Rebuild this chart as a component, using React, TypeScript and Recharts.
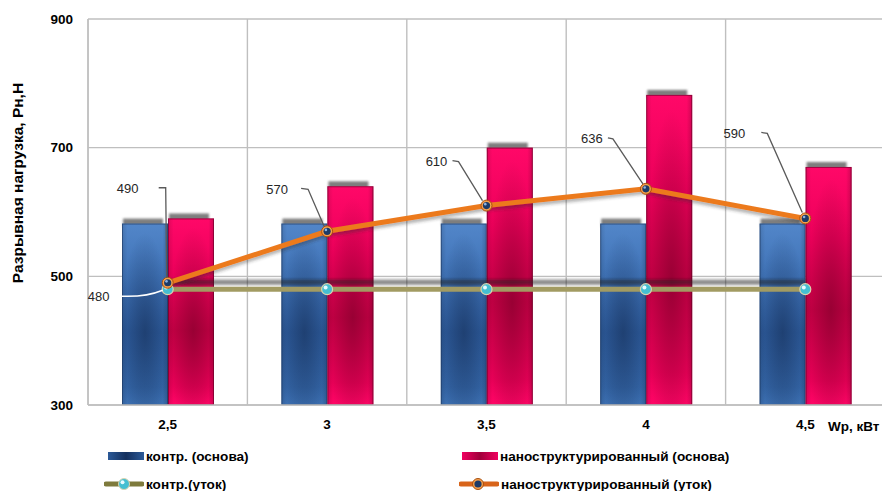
import React from 'react';
import {
  ComposedChart,
  Bar,
  Line,
  XAxis,
  YAxis,
  CartesianGrid,
  LabelList,
} from 'recharts';

// Wp, кВт
const categories = ['2,5', '3', '3,5', '4', '4,5'];
// разрывная нагрузка, Н
const controlWarp = [582, 582, 582, 582, 582];
const nanoWarp = [590, 640, 700, 782, 670];
const controlWeft = [480, 480, 480, 480, 480];
const nanoWeft = [490, 570, 610, 636, 590];
const yTicks = [300, 500, 700, 900];

const data = categories.map((wp, i) => ({
  wp,
  controlWarp: controlWarp[i],
  nanoWarp: nanoWarp[i],
  controlWeft: controlWeft[i],
  nanoWeft: nanoWeft[i],
}));

const FONT = '"Liberation Sans", Arial, sans-serif';

// label placement relative to each point of the nano weft line:
// text centre, then leader line (start, bend, end)
const nanoLabelLayout = [
  { dx: -40, dy: -94, leader: [[-9, -95], [-2, -95], [-1, -5]] },
  { dx: -50, dy: -42, leader: [[-26, -43], [-19, -42], [-3, -5]] },
  { dx: -50, dy: -44, leader: [[-34, -45], [-28, -44], [-4, -5]] },
  { dx: -54, dy: -50, leader: [[-38, -51], [-33, -50], [-3, -5]] },
  { dx: -71, dy: -85, leader: [[-44, -86], [-38, -85], [-3, -6]] },
];

const WarpBar = (gradId: string, spotId: string, edge: string) => (props: any) => {
  const { x, y, width, height } = props;
  if (width == null || height == null) return null;
  return (
    <g>
      <rect
        x={x + 1}
        y={y - 5}
        width={width - 6}
        height={8}
        fill="#5e5e5e"
        opacity={0.8}
        filter="url(#softBlur)"
      />
      <rect x={x} y={y} width={width} height={height} fill={`url(#${gradId})`} />
      <rect x={x} y={y} width={width} height={height} fill={`url(#${spotId})`} />
      <rect x={x} y={y} width={width} height={height} fill="url(#edgeShade)" />
      <rect
        x={x + 0.5}
        y={y + 0.5}
        width={width - 1}
        height={height - 1}
        fill="none"
        stroke={edge}
        strokeOpacity={0.55}
      />
    </g>
  );
};

const NanoDot = (props: any) => {
  const { cx, cy, index } = props;
  if (cx == null || cy == null) return null;
  return (
    <g key={`nd-${index}`}>
      <circle cx={cx} cy={cy} r={5.5} fill="#f6a04c" stroke="#a85010" strokeWidth={1} />
      <circle cx={cx} cy={cy} r={3.6} fill="#1c3a68" />
      <circle cx={cx - 1.2} cy={cy - 1.4} r={1.3} fill="#8fb4e0" />
    </g>
  );
};

const ControlDot = (props: any) => {
  const { cx, cy, index } = props;
  if (cx == null || cy == null) return null;
  return (
    <g key={`cd-${index}`}>
      <circle cx={cx} cy={cy} r={5.5} fill="#45bfd2" stroke="#d8d4b0" strokeWidth={1.2} />
      <circle cx={cx - 1.5} cy={cy - 1.7} r={2} fill="#e8fbff" />
    </g>
  );
};

const NanoLabel = (props: any) => {
  const { x, y, value } = props;
  let index = props.index;
  if (index == null) index = nanoWeft.indexOf(value);
  const lay = nanoLabelLayout[index];
  if (!lay || x == null || y == null) return null;
  const [a, b, c] = lay.leader;
  return (
    <g>
      <path
        d={`M${x + a[0]},${y + a[1]} L${x + b[0]},${y + b[1]} L${x + c[0]},${y + c[1]}`}
        fill="none"
        stroke="#5a5a5a"
        strokeWidth={1.3}
      />
      <text
        x={x + lay.dx}
        y={y + lay.dy}
        textAnchor="middle"
        dominantBaseline="central"
        fontFamily={FONT}
        fontSize={13}
        fill="#262626"
      >
        {value}
      </text>
    </g>
  );
};

// only the first control weft point carries a label
const ControlLabel = (props: any) => {
  const { x, y, value, index } = props;
  if (x == null || y == null) return null;
  if (index != null ? index !== 0 : x > 250) return null;
  return (
    <g>
      <path
        d={`M${x - 46},${y + 7} Q${x - 22},${y + 8} ${x - 5},${y + 1}`}
        fill="none"
        stroke="#ffffff"
        strokeWidth={1.5}
      />
      <text
        x={x - 69}
        y={y + 7}
        textAnchor="middle"
        dominantBaseline="central"
        fontFamily={FONT}
        fontSize={13}
        fill="#262626"
      >
        {value}
      </text>
    </g>
  );
};

const LegendBox = ({ from, to }: { from: string; to: string }) => (
  <svg width={36} height={10} style={{ display: 'block' }}>
    <defs>
      <linearGradient id={`lg-${from}`} x1="0" y1="0" x2="1" y2="0">
        <stop offset="0" stopColor={from} />
        <stop offset="0.5" stopColor={to} />
        <stop offset="1" stopColor={from} />
      </linearGradient>
    </defs>
    <rect x={0} y={1} width={36} height={8} fill={`url(#lg-${from})`} />
  </svg>
);

const LegendLine = ({ color, dot }: { color: string; dot: 'nano' | 'control' }) => (
  <svg width={40} height={14} style={{ display: 'block' }}>
    <line x1={2} y1={7} x2={38} y2={7} stroke={color} strokeWidth={5} strokeLinecap="round" />
    {dot === 'nano' ? (
      <g>
        <circle cx={19} cy={7} r={5.5} fill="#f6a04c" stroke="#a85010" />
        <circle cx={19} cy={7} r={3.6} fill="#1c3a68" />
      </g>
    ) : (
      <g>
        <circle cx={20} cy={7} r={5.5} fill="#45bfd2" stroke="#d8d4b0" />
        <circle cx={18.5} cy={5.3} r={2} fill="#e8fbff" />
      </g>
    )}
  </svg>
);

const legendText: React.CSSProperties = {
  fontFamily: FONT,
  fontWeight: 'bold',
  fontSize: 13.6,
  color: '#000',
  marginLeft: 2,
  whiteSpace: 'nowrap',
};

const LegendItem = ({ left, top, icon, label }: any) => (
  <div style={{ position: 'absolute', left, top, display: 'flex', alignItems: 'center', height: 16 }}>
    {icon}
    <span style={legendText}>{label}</span>
  </div>
);

export default function App() {
  return (
    <div
      style={{
        position: 'absolute',
        left: 0,
        top: 0,
        width: 882,
        height: 491,
        overflow: 'hidden',
        background: '#fff',
      }}
    >
      <style>{`
        .weft-control .recharts-line-curve { filter: url(#oliveShadow); }
        .weft-nano .recharts-line-curve { filter: url(#orangeShadow); }
      `}</style>
      <ComposedChart
        width={885}
        height={491}
        data={data}
        margin={{ top: 19, right: 0, bottom: 56, left: 0 }}
        barGap={0}
      >
        <defs>
          <linearGradient id="blueBar" x1="0" y1="0" x2="0" y2="1">
            <stop offset="0" stopColor="#5286c9" />
            <stop offset="0.3" stopColor="#3f72b6" />
            <stop offset="0.6" stopColor="#2e5c9d" />
            <stop offset="0.9" stopColor="#3465a6" />
            <stop offset="1" stopColor="#3d70b2" />
          </linearGradient>
          <radialGradient id="blueSpot" cx="0.5" cy="0.6" r="0.55">
            <stop offset="0" stopColor="#132a50" stopOpacity={0.55} />
            <stop offset="1" stopColor="#132a50" stopOpacity={0} />
          </radialGradient>
          <linearGradient id="pinkBar" x1="0" y1="0" x2="0" y2="1">
            <stop offset="0" stopColor="#ff0868" />
            <stop offset="0.3" stopColor="#ec005a" />
            <stop offset="0.6" stopColor="#c80046" />
            <stop offset="0.9" stopColor="#ea0058" />
            <stop offset="1" stopColor="#ff0566" />
          </linearGradient>
          <radialGradient id="pinkSpot" cx="0.55" cy="0.6" r="0.55">
            <stop offset="0" stopColor="#6a0022" stopOpacity={0.5} />
            <stop offset="1" stopColor="#6a0022" stopOpacity={0} />
          </radialGradient>
          <linearGradient id="edgeShade" x1="0" y1="0" x2="1" y2="0">
            <stop offset="0" stopColor="#000" stopOpacity={0.12} />
            <stop offset="0.12" stopColor="#000" stopOpacity={0} />
            <stop offset="0.88" stopColor="#000" stopOpacity={0} />
            <stop offset="1" stopColor="#000" stopOpacity={0.18} />
          </linearGradient>
          <filter id="softBlur" x="-20%" y="-100%" width="140%" height="300%">
            <feGaussianBlur stdDeviation="1.3" />
          </filter>
          <filter id="oliveShadow" filterUnits="userSpaceOnUse" x="0" y="0" width="900" height="500">
            <feGaussianBlur in="SourceAlpha" stdDeviation="1.6" result="b" />
            <feOffset in="b" dy="-7" result="o" />
            <feFlood floodColor="#202020" floodOpacity="0.55" />
            <feComposite in2="o" operator="in" result="s" />
            <feMerge>
              <feMergeNode in="s" />
              <feMergeNode in="SourceGraphic" />
            </feMerge>
          </filter>
          <filter id="orangeShadow" filterUnits="userSpaceOnUse" x="0" y="0" width="900" height="500">
            <feGaussianBlur in="SourceAlpha" stdDeviation="1.4" result="b" />
            <feOffset in="b" dy="3" result="o" />
            <feFlood floodColor="#303030" floodOpacity="0.35" />
            <feComposite in2="o" operator="in" result="s" />
            <feMerge>
              <feMergeNode in="s" />
              <feMergeNode in="SourceGraphic" />
            </feMerge>
          </filter>
        </defs>
        <CartesianGrid
          stroke="#bfbfbf"
          strokeWidth={1.4}
          verticalCoordinatesGenerator={({ offset }: any) =>
            categories.map((_, i) => offset.left + (i * offset.width) / categories.length)
          }
        />
        <XAxis
          dataKey="wp"
          tickLine={false}
          axisLine={{ stroke: '#bfbfbf', strokeWidth: 1.4 }}
          tickMargin={8}
          tick={{ fill: '#000', fontSize: 13.5, fontWeight: 'bold', fontFamily: FONT }}
        />
        <YAxis
          width={88}
          domain={[300, 900]}
          ticks={yTicks}
          tickLine={false}
          axisLine={{ stroke: '#bfbfbf', strokeWidth: 1.4 }}
          tickMargin={9}
          tick={{ fill: '#000', fontSize: 13.5, fontWeight: 'bold', fontFamily: FONT }}
        />
        <Bar
          dataKey="controlWarp"
          barSize={46}
          isAnimationActive={false}
          shape={WarpBar('blueBar', 'blueSpot', '#1a3258')}
        />
        <Bar
          dataKey="nanoWarp"
          barSize={46}
          isAnimationActive={false}
          shape={WarpBar('pinkBar', 'pinkSpot', '#5a0020')}
        />
        <Line
          className="weft-control"
          dataKey="controlWeft"
          type="linear"
          stroke="#a29b62"
          strokeWidth={5}
          dot={ControlDot}
          activeDot={false}
          isAnimationActive={false}
        >
          <LabelList dataKey="controlWeft" content={ControlLabel} />
        </Line>
        <Line
          className="weft-nano"
          dataKey="nanoWeft"
          type="linear"
          stroke="#ec7a1f"
          strokeWidth={5}
          dot={NanoDot}
          activeDot={false}
          isAnimationActive={false}
        >
          <LabelList dataKey="nanoWeft" content={NanoLabel} />
        </Line>
      </ComposedChart>

      <div
        style={{
          position: 'absolute',
          left: 18 - 110,
          top: 183 - 9,
          width: 220,
          height: 18,
          transform: 'rotate(-90deg)',
          textAlign: 'center',
          fontFamily: FONT,
          fontWeight: 'bold',
          fontSize: 15.5,
          lineHeight: '18px',
          color: '#000',
          whiteSpace: 'nowrap',
        }}
      >
        Разрывная нагрузка, Рн,Н
      </div>
      <div
        style={{
          position: 'absolute',
          left: 828,
          top: 419,
          fontFamily: FONT,
          fontWeight: 'bold',
          fontSize: 13.5,
          color: '#000',
          whiteSpace: 'nowrap',
        }}
      >
        Wp, кВт
      </div>

      <LegendItem left={108} top={448} icon={<LegendBox from="#2c5a98" to="#14305e" />} label="контр. (основа)" />
      <LegendItem left={462} top={448} icon={<LegendBox from="#f00060" to="#a0003a" />} label="наноструктурированный (основа)" />
      <LegendItem left={104} top={476} icon={<LegendLine color="#7e7a3c" dot="control" />} label="контр.(уток)" />
      <LegendItem left={459} top={476} icon={<LegendLine color="#d8641a" dot="nano" />} label="наноструктурированный (уток)" />
    </div>
  );
}
